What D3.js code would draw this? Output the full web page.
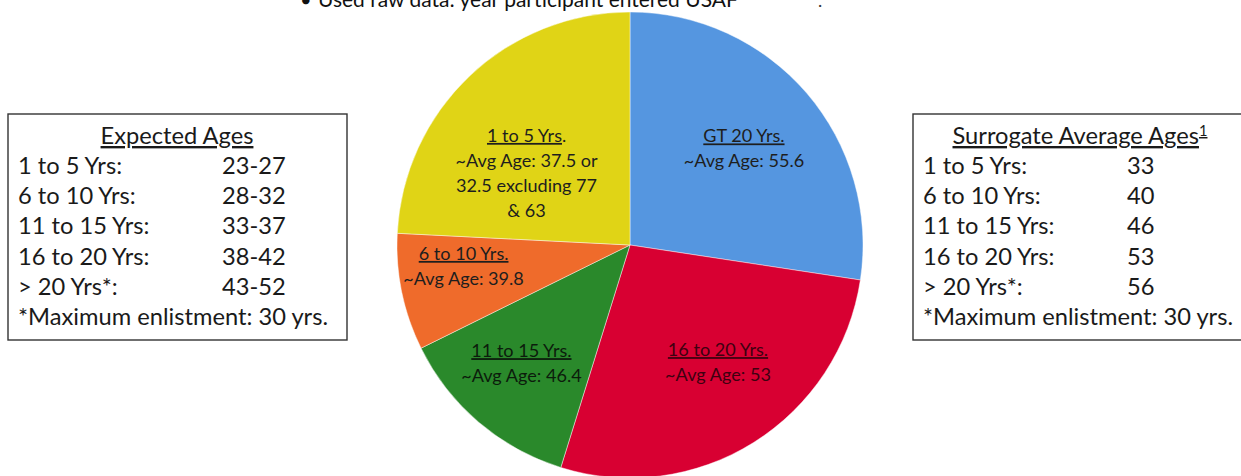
<!DOCTYPE html>
<html>
<head>
<meta charset="utf-8">
<script src="https://cdn.jsdelivr.net/npm/d3@7"></script>
<style>
  html, body { margin: 0; padding: 0; background: #fff; }
  svg { display: block; font-family: Lato, "Open Sans", sans-serif; }
</style>
</head>
<body>
<svg id="chart" width="1241" height="476"></svg>
<script>
// Share of participants by years since entering USAF (clockwise from 12 o'clock)
const groups      = ["GT 20 Yrs", "16 to 20 Yrs", "11 to 15 Yrs", "6 to 10 Yrs", "1 to 5 Yrs"];
const shares      = [27.4, 27.4, 12.9, 8.1, 24.2];
const sliceColors = ["#5596E0", "#D80032", "#2A892B", "#EF6B2B", "#E0D416"];
const avgAgeLines = [
  ["~Avg Age: 55.6"],
  ["~Avg Age: 53"],
  ["~Avg Age: 46.4"],
  ["~Avg Age: 39.8"],
  ["~Avg Age: 37.5 or", "32.5 excluding 77", "& 63"]
];

// Side tables
const rowLabels     = ["1 to 5 Yrs:", "6 to 10 Yrs:", "11 to 15 Yrs:", "16 to 20 Yrs:", "> 20 Yrs*:"];
const expectedAges  = ["23-27", "28-32", "33-37", "38-42", "43-52"];
const surrogateAges = ["33", "40", "46", "53", "56"];
const footnote      = "*Maximum enlistment: 30 yrs.";
const noteText      = "Used raw data: year participant entered USAF";

const svg = d3.select("#chart");

function fitWidth(sel, target) {
  const w = sel.node().getComputedTextLength();
  const fs = +sel.attr("font-size");
  sel.attr("font-size", (fs * target / w).toFixed(2));
  return fs * target / w;
}

// ---- header note (partly above the top edge) ----
const note = svg.append("g");
note.append("text").attr("x", 300).attr("y", 7).attr("font-size", 20).attr("fill", "#111").text("•");
const noteT = note.append("text").attr("x", 318).attr("y", 7).attr("font-size", 20).attr("fill", "#111").text(noteText);
fitWidth(noteT, 420);
note.append("text").attr("x", 818).attr("y", 7).attr("font-size", 18).attr("fill", "#333").text(".");

// ---- pie ----
const cx = 630, cy = 245, R = 233;
const pie = d3.pie().sort(null).value(d => d).startAngle(0).endAngle(2 * Math.PI);
const arcs = pie(shares);
const arc = d3.arc().innerRadius(0).outerRadius(R);

const pieG = svg.append("g").attr("transform", `translate(${cx},${cy})`);
pieG.selectAll("path.slice")
  .data(arcs)
  .join("path")
  .attr("class", "slice")
  .attr("d", arc)
  .attr("fill", (d, i) => sliceColors[i])
  .attr("stroke", "rgba(255,255,255,0.55)")
  .attr("stroke-width", 0.8);

// label placement: fraction of radius and angular nudge (degrees) per slice
const labelPlacement = [
  { k: 0.64, turn: 0.5 },
  { k: 0.63, turn: -4.8 },
  { k: 0.69, turn: 2.0 },
  { k: 0.72, turn: 4.4 },
  { k: 0.54, turn: -11.7 }
];
const lineGap = 25;
const labelSize = 17.5;

const labelG = pieG.append("g").attr("text-anchor", "middle");
arcs.forEach((d, i) => {
  const p = labelPlacement[i];
  const a = (d.startAngle + d.endAngle) / 2 + p.turn * Math.PI / 180;
  const rr = p.k * R;
  const x = rr * Math.sin(a), y = -rr * Math.cos(a);
  const lines = avgAgeLines[i];
  const n = lines.length + 1;
  const top = y - (n - 1) * lineGap / 2;
  const ink = i === 1 ? "#3e0010" : (i === 2 ? "#0c1c0c" : "#1e1e1e");
  const t = labelG.append("text")
    .attr("x", x).attr("y", top).attr("dy", "0.35em")
    .attr("fill", ink).attr("font-size", labelSize);
  t.append("tspan").attr("text-decoration", "underline").text(groups[i] + (i === 4 ? "" : "."));
  if (i === 4) t.append("tspan").text(".");
  lines.forEach((ln, j) => {
    labelG.append("text")
      .attr("class", "avg")
      .attr("x", x).attr("y", top + (j + 1) * lineGap).attr("dy", "0.35em")
      .attr("fill", ink).attr("font-size", labelSize)
      .text(ln);
  });
});
// condense the label glyphs so a reference line spans its measured width
const refNode = labelG.selectAll("text.avg").filter(function () {
  return d3.select(this).text() === "~Avg Age: 37.5 or";
}).node();
const squeeze = 142 / refNode.getComputedTextLength();
labelG.selectAll("text").each(function () {
  const w = this.getComputedTextLength();
  d3.select(this).attr("textLength", (w * squeeze).toFixed(2)).attr("lengthAdjust", "spacingAndGlyphs");
});

// ---- side tables ----
function drawTable(opts) {
  const g = svg.append("g");
  g.append("rect")
    .attr("x", opts.x).attr("y", 114)
    .attr("width", opts.w).attr("height", 226)
    .attr("fill", "#fff").attr("stroke", "#333").attr("stroke-width", 1.4);
  const fs = 22;
  const rowY = d3.range(rowLabels.length).map(i => 174 + i * 30.2);
  const foot = g.append("text").attr("x", opts.x + 10).attr("y", 325)
    .attr("font-size", fs).attr("fill", "#1a1a1a").text(footnote);
  const f = fitWidth(foot, 310);
  const title = g.append("text")
    .attr("x", opts.titleX).attr("y", 144)
    .attr("text-anchor", "middle").attr("font-size", f).attr("fill", "#1a1a1a");
  title.append("tspan").attr("text-decoration", "underline").text(opts.title);
  if (opts.sup) {
    title.append("tspan").attr("text-decoration", "underline")
      .attr("baseline-shift", "super").attr("font-size", f * 0.62).text(opts.sup);
  }
  rowLabels.forEach((lab, i) => {
    g.append("text").attr("x", opts.x + 10).attr("y", rowY[i])
      .attr("font-size", f).attr("fill", "#1a1a1a").text(lab);
    g.append("text").attr("x", opts.valX).attr("y", rowY[i])
      .attr("font-size", f).attr("fill", "#1a1a1a").text(opts.values[i]);
  });
}

drawTable({ x: 8, w: 339, title: "Expected Ages", titleX: 177, valX: 222, values: expectedAges });
drawTable({ x: 913, w: 340, title: "Surrogate Average Ages", sup: "1", titleX: 1080, valX: 1127, values: surrogateAges });
</script>
</body>
</html>
